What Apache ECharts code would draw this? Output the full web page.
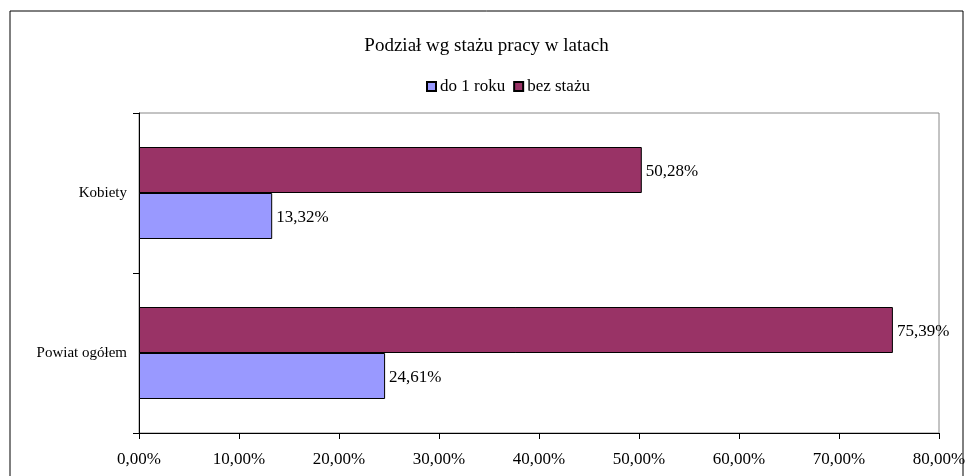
<!DOCTYPE html>
<html><head><meta charset="utf-8">
<script src="https://cdn.jsdelivr.net/npm/echarts@6/dist/echarts.min.js"></script>
<style>html,body{margin:0;padding:0;background:#fff;}#c{width:973px;height:476px;}</style>
</head><body><div id="c"></div>
<script>
const categories = ["Powiat ogółem", "Kobiety"];
const seriesNames = ["do 1 roku", "bez stażu"];
const do1roku = [24.61, 13.32];
const bezStazu = [75.39, 50.28];
const xTicks = [0, 10, 20, 30, 40, 50, 60, 70, 80];

const font = "'Liberation Serif', serif";
const fmt = v => v.toFixed(2).replace('.', ',') + '%';
const chart = echarts.init(document.getElementById('c'));
const lbl = {show: true, position: 'right', distance: 4, offset: [0, 2], formatter: p => fmt(p.value), fontFamily: font, fontSize: 17, color: '#000'};
chart.setOption({
  animation: false,
  textStyle: {fontFamily: font},
  title: {text: 'Podział wg stażu pracy w latach', left: 'center', top: 32,
    textStyle: {fontFamily: font, fontSize: 19, fontWeight: 'normal', color: '#000'}},
  legend: {top: 73, left: 421, itemWidth: 9, itemHeight: 9, itemGap: 8,
    data: seriesNames.map(n => ({name: n, icon: 'rect'})),
    textStyle: {fontFamily: font, fontSize: 17, color: '#000', padding: [0,0,0,-1]}},
  graphic: [{type: 'rect', shape: {x: 10, y: 11, width: 953, height: 480},
    style: {fill: 'none', stroke: '#000', lineWidth: 1}, silent: true, z: -1}],
  grid: {left: 139, right: 34, top: 113, bottom: 43, show: true, borderColor: '#888', borderWidth: 1, backgroundColor: 'transparent'},
  xAxis: {type: 'value', min: xTicks[0], max: xTicks[xTicks.length-1], interval: 10,
    axisLine: {show: true, lineStyle: {color: '#000'}},
    axisTick: {show: true, length: 6, lineStyle: {color: '#000'}},
    splitLine: {show: false},
    axisLabel: {formatter: v => fmt(v), fontFamily: font, fontSize: 17, color: '#000', margin: 18}},
  yAxis: {type: 'category', data: categories,
    axisLine: {show: true, lineStyle: {color: '#000'}},
    axisTick: {show: true, length: 6, lineStyle: {color: '#000'}},
    axisLabel: {fontFamily: font, fontSize: 15, color: '#000', margin: 12, padding: [6, 0, 0, 0]}},
  series: [
    {name: seriesNames[1], type: 'bar', data: bezStazu, barGap: '0%', barCategoryGap: '42.5%',
      itemStyle: {color: '#993366', borderColor: '#000', borderWidth: 1}, label: lbl},
    {name: seriesNames[0], type: 'bar', data: do1roku, barGap: '0%', barCategoryGap: '42.5%',
      itemStyle: {color: '#9999FF', borderColor: '#000', borderWidth: 1}, label: lbl}
  ]
});
</script></body></html>
